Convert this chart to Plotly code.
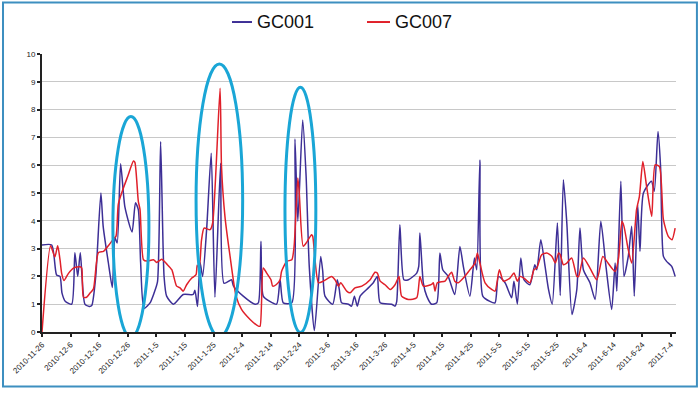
import plotly.graph_objects as go

# ---- data (days since 2010-11-26, rate %) ----
tick_labels = ["2010-11-26", "2010-12-6", "2010-12-16", "2010-12-26", "2011-1-5", "2011-1-15",
               "2011-1-25", "2011-2-4", "2011-2-14", "2011-2-24", "2011-3-6", "2011-3-16",
               "2011-3-26", "2011-4-5", "2011-4-15", "2011-4-25", "2011-5-5", "2011-5-15",
               "2011-5-25", "2011-6-4", "2011-6-14", "2011-6-24", "2011-7-4"]
tick_days = [10 * i for i in range(len(tick_labels))]

gc001_day = [0, 3.4, 5.1, 6.3, 7.0, 8.2, 10.4, 11.5, 12.5, 13.4, 15.0, 16.5, 17.4, 18.8, 20.6, 21.4,
             23.2, 24.6, 25.5, 26.3, 27.5, 29.0, 31.5, 32.7, 33.7, 34.5, 35.7, 37.8, 39.2, 40.4, 41.5,
             42.7, 43.6, 46.0, 49.4, 52.9, 53.5, 54.4, 55.3, 56.2, 57.6, 59.2, 60.5, 62.5, 63.7, 66.3,
             67.0, 70.4, 74.5, 75.7, 76.6, 77.4, 79.7, 82.1, 83.3, 84.4, 87.4, 88.5, 89.5, 91.2, 92.4,
             93.5, 95.3, 97.5, 98.2, 99.0, 101.7, 103.3, 104.0, 104.8, 107.2, 108.3, 109.3, 110.3,
             111.3, 113.6, 115.9, 117.3, 118.3, 122.3, 123.5, 124.1, 125.2, 126.6, 128.2, 131.1, 131.8,
             132.2, 133.4, 134.6, 136.3, 138.1, 139.2, 140.2, 142.1, 144.4, 146.2, 147.4, 149.7, 151.3,
             152.1, 153.2, 154.2, 156.7, 158.5, 159.7, 162.0, 164.3, 165.1, 166.3, 167.5, 168.6, 170.7,
             172.4, 173.1, 174.5, 176.0, 177.2, 178.5, 180.3, 181.3, 182.4, 183.6, 185.4, 187.1, 188.2,
             189.4, 191.7, 193.5, 195.5, 197.3, 199.3, 200.5, 201.1, 202.5, 203.6, 205.1, 206.3, 207.2,
             208.4, 209.2, 210.4, 213.2, 214.2, 215.5, 216.4, 217.4, 218.5, 220.3, 221.5]
gc001_rate = [3.13, 3.13, 2.05, 2.0, 1.4, 1.1, 1.0, 2.85, 2.0, 2.85, 1.0, 0.92, 0.95, 2.0, 5.0, 3.8,
              2.5, 1.6, 3.4, 3.2, 6.05, 4.5, 3.6, 4.65, 4.4, 2.5, 0.85, 1.05, 1.4, 1.8, 6.85,
              2.0, 1.29, 1.0, 1.35, 1.35, 1.5, 0.92, 2.5, 2.0, 3.7, 6.43, 1.25, 6.07, 1.75, 1.88,
              1.65, 1.29, 1.0, 1.05, 3.26, 1.29, 1.1, 1.0, 1.88, 1.05, 1.05, 6.94, 3.98, 7.63, 5.6,
              2.36, 0.05, 2.72, 2.2, 1.29, 1.0, 1.88, 1.53, 1.05, 1.0, 0.93, 1.29, 0.93,
              1.29, 1.53, 1.77, 2.0, 1.05, 1.0, 0.93, 1.1, 3.86, 1.88, 1.88, 2.12, 2.36,
              3.56, 1.77, 1.29, 1.0, 1.05, 2.84, 2.24, 2.0, 1.35, 3.08, 2.36, 1.29, 2.66,
              2.24, 6.19, 1.29, 1.1, 1.05, 2.0, 1.77, 1.23, 1.83, 1.0, 2.66, 1.88, 1.7,
              2.42, 2.24, 3.32, 2.36, 1.53, 1.0, 3.92, 1.31, 5.48, 3.92, 0.63, 1.53, 3.74,
              2.24, 1.77, 1.17, 3.98, 2.36, 0.81, 2.48, 1.47, 5.42, 2.0, 2.72, 3.8, 1.29,
              4.58, 2.9, 5.0, 5.42, 5.06, 7.21, 5.95, 2.72, 2.54, 2.36, 2.0]

gc007_day = [0, 3.0, 4.5, 5.5, 6.3, 6.9, 7.7, 9.2, 11.0, 13.3, 13.9, 14.5, 15.6, 16.8, 18.0, 19.7,
             21.5, 23.2, 25.0, 25.9, 26.7, 28.2, 30.0, 32.0, 32.5, 33.7, 34.3, 35.5, 36.7, 39.0, 40.1,
             41.9, 43.6, 45.4, 47.1, 48.3, 49.4, 50.6, 52.4, 53.9, 54.3, 55.0, 55.8, 56.7, 58.8, 59.7,
             62.3, 62.8, 64.0, 65.8, 67.9, 69.8, 72.8, 75.7, 76.3, 77.4, 78.6, 80.1, 80.7, 81.9, 83.3,
             83.8, 85.6, 87.4, 88.2, 89.5, 90.0, 91.4, 92.8, 94.3, 94.7, 96.7, 98.4, 99.6, 101.3, 102.5,
             103.7, 104.5, 106.6, 107.8, 109.5, 111.9, 114.8, 116.5, 117.3, 118.3, 120.0, 121.8, 123.5,
             124.9, 125.8, 128.2, 131.1, 132.2, 133.4, 136.3, 136.9, 137.5, 138.3, 141.0, 142.1, 143.3,
             144.4, 145.6, 147.9, 149.7, 151.5, 152.3, 153.2, 155.0, 157.3, 158.5, 160.0, 161.4, 163.7,
             165.1, 166.3, 167.3, 168.6, 170.7, 172.1, 173.1, 174.8, 176.6, 178.4, 179.6, 180.7, 181.3,
             182.4, 183.6, 185.3, 187.1, 187.7, 189.4, 191.7, 194.1, 196.2, 197.6, 200.5, 201.7, 202.9,
             203.6, 205.1, 206.3, 208.0, 209.0, 210.2, 211.6, 213.3, 214.5, 216.0, 217.4, 219.1, 220.4,
             221.5]
gc007_rate = [0, 3.1, 2.7, 3.1, 2.6, 2.1, 1.85, 2.1, 2.3, 2.35, 2.3, 1.25, 1.25, 1.4, 1.55, 2.85,
              2.9, 3.1, 3.35, 3.45, 4.6, 5.1, 5.6, 6.15, 6.1, 4.7, 4.4, 2.6, 2.55, 2.6, 2.5,
              2.62, 2.45, 2.24, 1.65, 1.59, 1.47, 1.7, 1.94, 2.06, 2.4, 2.3, 3.3, 3.74, 3.68, 3.92,
              8.77, 5.95, 4.16, 2.72, 1.29, 0.81, 0.45, 0.21, 0.21, 2.3, 2.12, 1.88, 1.65, 1.7, 1.88,
              2.18, 2.54, 2.6, 3.08, 5.54, 5.0, 3.08, 3.26, 3.5, 3.45, 1.77, 1.83, 1.9, 2.0, 1.88,
              1.65, 1.77, 1.47, 1.41, 1.59, 1.65, 1.88, 2.15, 2.12, 1.83, 1.7, 1.53, 1.7,
              2.0, 1.29, 1.17, 1.23, 2.0, 1.65, 1.71, 1.77, 1.47, 1.77, 1.83, 2.0, 2.15,
              1.83, 1.77, 2.0, 2.24, 2.48, 2.84, 2.48, 1.77, 1.53, 1.47, 2.24, 1.83, 1.94,
              2.12, 1.83, 2.0, 1.94, 1.77, 2.24, 2.3, 2.78, 2.84, 2.72, 2.48, 2.84, 2.78,
              2.42, 2.48, 2.66, 2.0, 2.0, 2.66, 2.3, 1.88, 2.72, 2.54, 2.18, 2.66, 3.98,
              3.8, 2.96, 2.48, 4.4, 4.88, 6.13, 5.18, 4.16, 6.01, 5.95, 4.04, 3.44, 3.32,
              3.74]

series_names = ["GC001", "GC007"]
series_colors = ["#3d2f96", "#e0202a"]

# highlighted episodes (day range, rate range)
highlight_days = [(24.8, 37.4), (53.9, 70.2), (85.0, 95.8)]
highlight_rates = [(-0.2, 7.75), (-0.17, 9.64), (-0.02, 8.8)]

FONT = "Arial, Liberation Sans, sans-serif"

fig = go.Figure()
for name, color, xs, ys in zip(series_names, series_colors,
                               [gc001_day, gc007_day], [gc001_rate, gc007_rate]):
    fig.add_trace(go.Scatter(x=xs, y=ys, mode="lines", name=name, showlegend=False,
                             line=dict(color=color, width=1.5, shape="spline", smoothing=0.6)))

for (d0, d1), (r0, r1) in zip(highlight_days, highlight_rates):
    fig.add_shape(type="circle", xref="x", yref="y", x0=d0, x1=d1, y0=r0, y1=r1,
                  line=dict(color="#1aa6d6", width=3), layer="above")

# legend drawn as line samples + labels (short Excel-style samples)
legend_x = [(0.2997, 0.3312), (0.5126, 0.5489)]
legend_y = 1.115
for name, color, (lx0, lx1) in zip(series_names, series_colors, legend_x):
    fig.add_shape(type="line", xref="paper", yref="paper", x0=lx0, x1=lx1, y0=legend_y, y1=legend_y,
                  line=dict(color=color, width=2))
    fig.add_annotation(xref="paper", yref="paper", x=lx1 + 0.004, y=legend_y, text=name,
                       showarrow=False, xanchor="left", yanchor="middle",
                       font=dict(size=18, color="#111111", family=FONT))

# outer frame
fig.add_shape(type="rect", xref="paper", yref="paper", x0=-0.0615, x1=1.033, y0=-0.196, y1=1.185,
              line=dict(color="#3d8fc0", width=2))

fig.update_layout(
    width=700, height=394,
    margin=dict(l=42, r=24, t=54, b=62),
    paper_bgcolor="white", plot_bgcolor="white",
    font=dict(family=FONT, color="#222222", size=8),
    showlegend=False,
    xaxis=dict(range=[0, 221.8], tickvals=tick_days, ticktext=tick_labels, tickangle=-45,
               showgrid=False, zeroline=False, showline=True, linecolor="#222222", linewidth=2,
               ticks="outside", ticklen=3, tickwidth=2, tickcolor="#222222",
               tickfont=dict(size=8, color="#222222")),
    yaxis=dict(range=[0, 10], dtick=1, showgrid=True, gridcolor="#c8c8c8", gridwidth=1,
               zeroline=False, showline=True, linecolor="#222222", linewidth=2,
               ticks="outside", ticklen=3, tickwidth=2, tickcolor="#222222",
               tickfont=dict(size=8, color="#222222")),
)

fig.write_html("out.html", config={"displayModeBar": False},
               post_script="document.body.style.margin='0';")
